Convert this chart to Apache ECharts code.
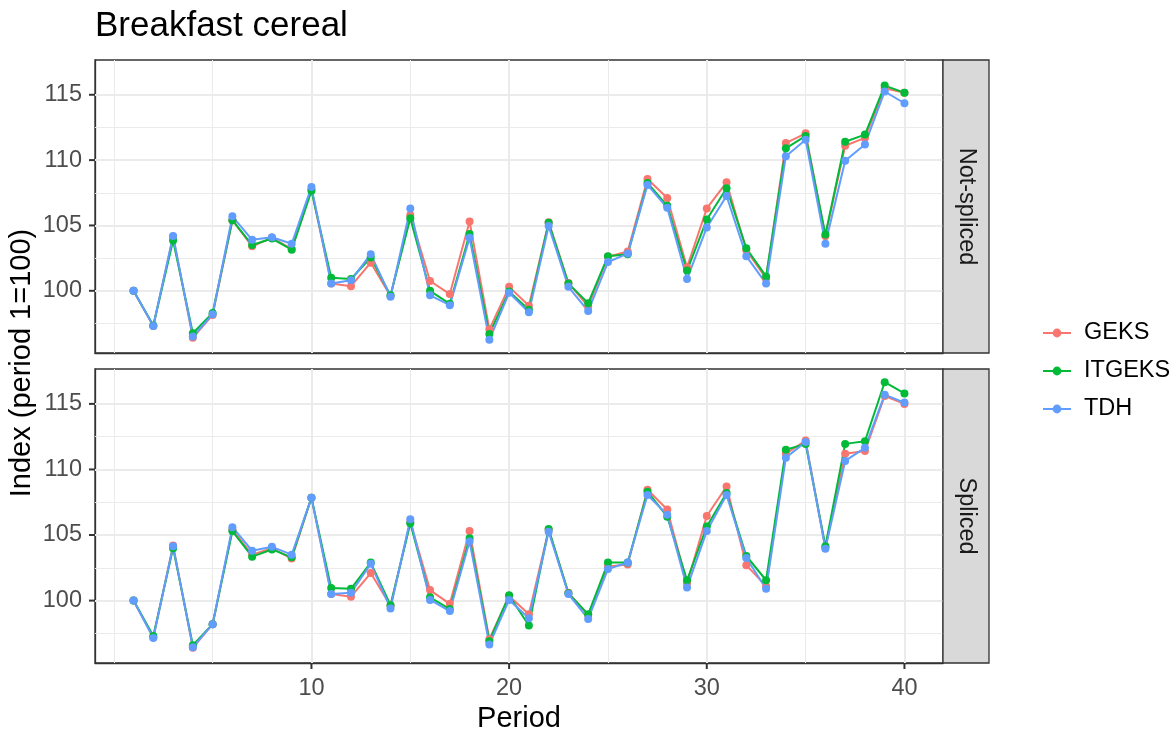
<!DOCTYPE html>
<html>
<head>
<meta charset="utf-8">
<script src="https://cdn.jsdelivr.net/npm/echarts@6/dist/echarts.min.js"></script>
<style>html,body{margin:0;padding:0;background:#fff}#c{width:1176px;height:735px}</style>
</head>
<body>
<div id="c"></div>
<script>
const periods = [1,2,3,4,5,6,7,8,9,10,11,12,13,14,15,16,17,18,19,20,21,22,23,24,25,26,27,28,29,30,31,32,33,34,35,36,37,38,39,40];
const seriesNames = ['GEKS','ITGEKS','TDH'];
const panelNames = ['Not-spliced','Spliced'];

const geksNotSpliced = [100,97.3,104.15,96.4,98.15,105.4,103.4,104.05,103.2,107.75,100.55,100.35,102.15,99.6,105.8,100.75,99.75,105.3,97.05,100.3,98.85,105.25,100.6,98.8,102.6,103.0,108.55,107.1,101.8,106.3,108.3,103.1,100.95,111.3,112.05,104.2,111.1,111.7,115.5,115.15];
const itgeksNotSpliced = [100,97.35,103.85,96.75,98.3,105.4,103.5,104.0,103.15,107.65,101.0,100.9,102.55,99.65,105.55,100.0,99.0,104.35,96.7,99.95,98.55,105.2,100.55,99.05,102.65,102.8,108.25,106.5,101.55,105.45,107.85,103.25,101.1,110.9,111.85,104.3,111.4,111.95,115.7,115.15];
const tdhNotSpliced = [100,97.3,104.2,96.5,98.2,105.7,103.9,104.1,103.6,107.95,100.55,100.8,102.8,99.55,106.3,99.65,98.9,104.05,96.25,99.85,98.35,104.95,100.3,98.45,102.2,102.85,108.1,106.35,100.9,104.85,107.25,102.65,100.55,110.3,111.55,103.6,109.95,111.2,115.25,114.35];

const geksSpliced = [100,97.2,104.2,96.4,98.2,105.4,103.5,104.0,103.2,107.85,100.5,100.3,102.1,99.6,106.0,100.8,99.75,105.3,97.05,100.35,98.95,105.4,100.6,98.9,102.6,102.75,108.45,106.95,101.3,106.45,108.7,102.7,101.1,111.2,112.2,104.05,111.2,111.4,115.6,115.0];
const itgeksSpliced = [100,97.3,104.0,96.6,98.2,105.3,103.35,103.9,103.3,107.85,100.95,100.9,102.9,99.65,105.9,100.25,99.35,104.75,96.9,100.4,98.1,105.45,100.55,98.95,102.9,102.9,108.3,106.4,101.55,105.65,108.2,103.4,101.55,111.5,111.95,104.15,111.95,112.15,116.65,115.8];
const tdhSpliced = [100,97.15,104.15,96.45,98.2,105.6,103.8,104.1,103.5,107.85,100.5,100.6,102.8,99.4,106.2,100.05,99.2,104.5,96.65,100.05,98.65,105.25,100.5,98.6,102.4,102.9,108.05,106.55,101.0,105.3,108.05,103.25,100.9,110.9,112.1,103.95,110.65,111.65,115.7,115.1];

const yTicks = [100,105,110,115];
const yMinor = [97.5,102.5,107.5,112.5];
const xTicks = [10,20,30,40];
const xMinor = [0,5,15,25,35];

const colors = ['#F8766D','#00BA38','#619CFF'];
const FONT = 'Liberation Sans, Arial, Helvetica, sans-serif';
const yMin = 95.24, yMax = 117.66, xMin = -0.95, xMax = 41.95;

const panels = [
  [geksNotSpliced, itgeksNotSpliced, tdhNotSpliced],
  [geksSpliced, itgeksSpliced, tdhSpliced]
];

const grids = [
  {left:95, top:60, width:848, height:293},
  {left:95, top:369, width:848, height:294}
];

function gridLines() {
  const d = [];
  yTicks.forEach(v => d.push({yAxis:v, lineStyle:{color:'#EBEBEB', width:2, type:'solid'}}));
  yMinor.forEach(v => d.push({yAxis:v, lineStyle:{color:'#EBEBEB', width:1, type:'solid'}}));
  xTicks.forEach(v => d.push({xAxis:v, lineStyle:{color:'#EBEBEB', width:2, type:'solid'}}));
  xMinor.forEach(v => d.push({xAxis:v, lineStyle:{color:'#EBEBEB', width:1, type:'solid'}}));
  return d;
}

const TICK = 6;
function tickSeries(i, data, vertical) {
  return {
    type:'custom', xAxisIndex:i, yAxisIndex:i, silent:true, clip:false, z:12,
    animation:false, legendHoverLink:false,
    data: data,
    renderItem: function (params, api) {
      const p = api.coord([api.value(0), api.value(1)]);
      return vertical
        ? {type:'rect', shape:{x:p[0]-1, y:p[1], width:2, height:TICK}, style:{fill:'#333333'}}
        : {type:'rect', shape:{x:p[0]-TICK, y:p[1]-1, width:TICK, height:2}, style:{fill:'#333333'}};
    }
  };
}

const xAxes = [], yAxes = [], series = [];
grids.forEach((g, i) => {
  xAxes.push({
    type:'value', gridIndex:i, min:xMin, max:xMax,
    axisLine:{show:true, onZero:false, lineStyle:{color:'#333333', width:1.3}}, splitLine:{show:false},
    axisTick:{show:false},
    axisLabel:{show:i===1, fontSize:23.5, color:'#4D4D4D', fontFamily:FONT, margin:14,
      showMinLabel:true, showMaxLabel:true, hideOverlap:false,
      formatter: v => (xTicks.indexOf(v) >= 0 ? String(v) : '')},
    name: i===1 ? 'Period' : '', nameLocation:'middle', nameGap:41,
    nameTextStyle:{fontSize:29, color:'#000000', fontFamily:FONT}
  });
  yAxes.push({
    type:'value', gridIndex:i, min:yMin, max:yMax,
    axisLine:{show:true, onZero:false, lineStyle:{color:'#333333', width:1.3}}, splitLine:{show:false},
    axisTick:{show:false},
    axisLabel:{show:true, fontSize:23.5, color:'#4D4D4D', fontFamily:FONT, margin:13,
      showMinLabel:true, showMaxLabel:true, hideOverlap:false,
      formatter: v => (yTicks.indexOf(v) >= 0 ? String(v) : '')}
  });
  series.push({
    type:'line', xAxisIndex:i, yAxisIndex:i, data:[], silent:true,
    markLine:{silent:true, symbol:['none','none'], z:1, label:{show:false}, emphasis:{disabled:true},
      animation:false, data:gridLines()}
  });
  panels[i].forEach((vals, k) => {
    series.push({
      name: seriesNames[k], type:'line', xAxisIndex:i, yAxisIndex:i,
      data: periods.map((p, j) => [p, vals[j]]),
      symbol:'circle', symbolSize:8, showSymbol:true,
      lineStyle:{color:colors[k], width:2},
      itemStyle:{color:colors[k]},
      emphasis:{disabled:true}, animation:false, z:3
    });
  });
  series.push(tickSeries(i, yTicks.map(v => [xMin, v]), false));
  if (i === 1) series.push(tickSeries(i, xTicks.map(v => [v, yMin]), true));
});

const chart = echarts.init(document.getElementById('c'), null, {renderer:'canvas'});
chart.setOption({
  backgroundColor:'#ffffff',
  animation:false,
  title:{text:'Breakfast cereal', left:95, top:9, padding:0,
    textStyle:{fontSize:35, fontWeight:'normal', color:'#000000', fontFamily:FONT}},
  grid: grids.map(g => Object.assign({show:true, borderColor:'#333333', borderWidth:1.3, backgroundColor:'transparent'}, g)),
  xAxis: xAxes,
  yAxis: yAxes,
  legend:{
    data: seriesNames, orient:'vertical', left:1037, top:316,
    itemWidth:28, itemHeight:11, itemGap:14,
    textStyle:{fontSize:23.5, color:'#000000', fontFamily:FONT, padding:[0,0,0,8]},
    selectedMode:false
  },
  graphic:[
    {type:'rect', shape:{x:943, y:60, width:46, height:293}, style:{fill:'#D9D9D9', stroke:'#333333', lineWidth:1.3}, z:10},
    {type:'rect', shape:{x:943, y:369, width:46, height:294}, style:{fill:'#D9D9D9', stroke:'#333333', lineWidth:1.3}, z:10},
    {type:'text', x:966, y:206.5, rotation:-Math.PI/2, z:11,
      style:{text:panelNames[0], fontSize:23.5, fill:'#1A1A1A', fontFamily:FONT, align:'center', verticalAlign:'middle'}},
    {type:'text', x:966, y:516, rotation:-Math.PI/2, z:11,
      style:{text:panelNames[1], fontSize:23.5, fill:'#1A1A1A', fontFamily:FONT, align:'center', verticalAlign:'middle'}},
    {type:'text', x:22, y:363, rotation:Math.PI/2, z:11,
      style:{text:'Index (period 1=100)', fontSize:29, fill:'#000000', fontFamily:FONT, align:'center', verticalAlign:'middle'}}
  ],
  series: series
});
</script>
</body>
</html>
